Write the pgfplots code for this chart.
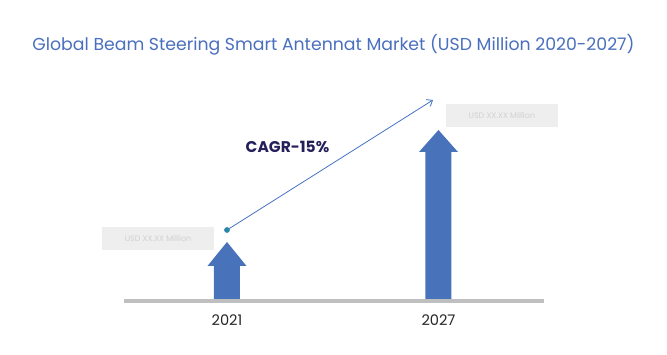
\documentclass[border=0pt]{standalone}
\usepackage{fontspec}
\setmainfont{Poppins}
\usepackage{pgfplots}
\pgfplotsset{compat=1.18}
\usetikzlibrary{arrows.meta}
\definecolor{barblue}{HTML}{4872BA}
\definecolor{titleblue}{HTML}{4A6FBE}
\definecolor{lineblue}{HTML}{4472C4}
\definecolor{dotteal}{HTML}{2A86A8}
\definecolor{cagrnavy}{HTML}{232059}
\definecolor{basegray}{HTML}{BFBFBF}
\definecolor{boxgray}{HTML}{EEEEEE}
\begin{document}
\begin{tikzpicture}[x=1pt,y=1pt]
\path[use as bounding box] (0,0) rectangle (667,355);
\node[font=\fontsize{17.3}{19}\selectfont, text=titleblue] at (333.5,310) {Global Beam Steering Smart Antennat Market (USD Million 2020-2027)};
\begin{axis}[
  at={(124pt,51pt)}, anchor=south west,
  scale only axis, width=420pt, height=210pt,
  xmin=-0.487, xmax=1.499, ymin=-5, ymax=205,
  axis lines=none, clip=false,
  xtick={0,1}, xticklabels={2021,2027},
  ytick=\empty,
]
% baseline
\addplot[fill=basegray, draw=none] coordinates {(-0.487,-4) (1.499,-4) (1.499,0) (-0.487,0)} --cycle;
% 2021 arrow-bar: value 57
\addplot[fill=barblue, draw=none] coordinates {(-0.0615,0) (-0.0615,33) (-0.0922,33) (0,57) (0.0922,33) (0.0615,33) (0.0615,0)} --cycle;
% 2027 arrow-bar: value 169
\addplot[fill=barblue, draw=none] coordinates {(0.9385,0) (0.9385,147) (0.9078,147) (1,169) (1.0922,147) (1.0615,147) (1.0615,0)} --cycle;
% CAGR line
\addplot[lineblue, line width=0.8pt, -{Straight Barb[length=5pt,width=8pt]}] coordinates {(0,69) (0.974,199)};
\addplot[only marks, mark=*, mark size=2.6pt, dotteal] coordinates {(0,69)};
% labels
\node[font=\fontsize{14.6}{16}\selectfont\color{black!85}] at (axis cs:0,-21.5) {2021};
\node[font=\fontsize{14.6}{16}\selectfont\color{black!85}] at (axis cs:1,-21.5) {2027};
\node[font=\fontsize{15.5}{17}\bfseries, text=cagrnavy] at (axis cs:0.286,152) {CAGR-15\%};
\node[fill=boxgray, minimum width=112pt, minimum height=23pt, inner sep=0pt, text=black!18, font=\fontsize{8}{9}\selectfont] at (axis cs:-0.326,60.5) {USD XX.XX Million};
\node[fill=boxgray, minimum width=112pt, minimum height=23pt, inner sep=0pt, text=black!18, font=\fontsize{8}{9}\selectfont] at (axis cs:1.300,183.5) {USD XX.XX Million};
\end{axis}
\end{tikzpicture}
\end{document}
